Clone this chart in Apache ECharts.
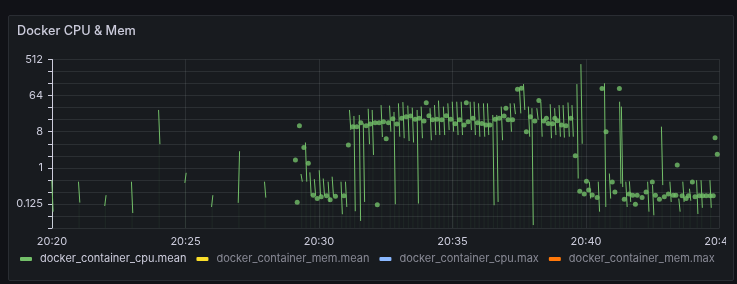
<!DOCTYPE html>
<html>
<head>
<meta charset="utf-8">
<script src="https://cdn.jsdelivr.net/npm/echarts@6/dist/echarts.min.js"></script>
<style>
  html, body { margin: 0; padding: 0; background: #111217; width: 737px; height: 284px; overflow: hidden; }
  #panel { position: absolute; left: 8px; top: 15px; width: 724px; height: 264px; background: #181b1f; border: 1px solid #2a2d33; border-radius: 2px; }
  #chart { position: absolute; left: 0; top: 0; width: 726px; height: 284px; overflow: hidden; }
</style>
</head>
<body>
<div id="panel"></div>
<div id="chart"></div>
<script>
// ---- data (times are seconds after 20:20:00) ----
const xTickLabels = ['20:20', '20:25', '20:30', '20:35', '20:40', '20:45'];
const yTickLabels = ['0.125', '1', '8', '64', '512'];
const seriesNames = ['docker_container_cpu.mean', 'docker_container_mem.mean', 'docker_container_cpu.max', 'docker_container_mem.max'];

// spikes: [time, first value, second value]
const cpuSpikes = [
  [1,0.49,0.08],[61,0.45,0.135],[120,0.111,0.207],[180,0.45,0.074],[241,28,3.9],[300,0.42,0.75],
  [360,0.105,0.207],[420,0.133,2.6],[479,0.45,0.18],
  [561,0.7,0.45],[571,4.3,0.45],[581,0.77,0.2],[591,0.52,0.2],[602,0.87,0.2],[611,0.54,0.2],
  [622,0.45,0.14],[631,0.6,0.2],[651,0.45,0.069],[661,0.45,0.105],
  [670,28,8.8],[680,19.8,0.082],[692,21,0.047],[701,13,0.14],[712,30,3.9],[721,28,2.1],[741,37,5.9],
  [760,36,8],[770,25,0.123],[780,41,6],[790,44,5.5],[801,36,4.7],[811,32,4.3],[822,28,0.128],
  [831,34,5.5],[851,31,4.9],[861,37,6.6],[870,48,6.6],[881,34,6.6],[891,41,8.8],[901,45,8],
  [911,45,6.6],[921,45,6.6],[941,45,8.8],[950,45,6.6],[960,41,6],[971,41,6],[980,41,6.6],
  [992,21,0.116],[1001,21,0.14],[1011,34,4.9],[1031,41,8],[1040,41,22],[1052,98,23],[1061,124,28],
  [1072,34,6],[1080,31,0.037],[1091,31,16],[1100,45,6],[1121,39,5.5],[1131,31,6.6],[1141,37,6],
  [1150,37,5.7],[1161,43,6],[1170,37,6],[1181,124,0.54],[1190,392,4],
  [1209,0.45,0.17],[1229,0.45,0.08],[1243,130,0.105],[1254,0.72,0.17],[1277,45,0.4],[1281,34,0.33],
  [1291,0.45,0.105],[1299,0.46,0.14],[1340,0.45,0.08],[1351,0.37,0.065],[1371,10.7,0.37],
  [1390,0.45,0.14],[1410,0.17,0.08],[1419,0.45,0.14],[1434,0.3,0.15],[1450,0.49,0.07],
  [1460,0.49,0.1],[1480,0.49,0.1]
];

// isolated points: [time, value]
const cpuPoints = [
  [547,1.56],[551,0.138],[556,11.3],[566,3.2],[576,1.31],[587,0.206],[596,0.17],[605,0.19],
  [617,0.2],[625,0.16],[637,0.195],[656,0.2],[666,3.7],
  [676,10.7],[685,10.7],[694,13.5],[706,11.3],[715,12.4],[726,13.5],[731,0.12],[735,13.5],
  [745,14.3],[751,5.3],[756,13.5],
  [766,17],[775,12.5],[786,17.3],[796,19],[806,19.8],[816,16.4],[825,17.3],[836,14.8],[841,42.7],
  [847,20],[855,16],[865,16.4],[876,16],[886,20],[896,16.4],[906,12.7],[916,16],[926,11.8],
  [931,42.7],[935,14.2],[946,17.3],[956,13.5],[966,12.9],[975,11.8],[984,11.8],
  [996,16.4],[1005,17.3],[1016,19.8],[1020,31],[1025,16],[1035,16],[1046,92.6],[1055,98],
  [1066,8],[1075,19],[1085,14.8],[1094,48],[1105,14.8],[1111,17.3],[1115,12.9],[1125,12.7],
  [1130,17.3],[1136,15.1],[1145,11.8],[1155,11.3],[1166,17.3],[1176,2],
  [1186,0.26],[1196,0.22],[1201,0.46],[1206,0.28],[1214,0.21],[1225,0.18],[1236,96],[1245,8],
  [1259,0.44],[1265,0.25],[1275,96],[1286,0.164],[1297,0.22],[1305,0.206],[1311,0.123],
  [1315,0.206],[1326,0.18],[1335,0.25],[1349,0.44],[1356,0.206],[1365,0.164],[1376,0.19],
  [1385,0.22],[1396,0.206],[1402,0.206],[1405,1.17],[1416,0.2],[1425,0.17],[1430,0.2],
  [1439,0.44],[1445,0.19],[1455,0.2],[1462,0.2],[1470,0.2],[1479,0.2],[1486,0.2],
  [1490,5.66],[1495,2.2]
];

const memMean = [];
const cpuMax = [];
const memMax = [];

// ---- build ----
const colors = ['#73bf69', '#fade2a', '#8ab8ff', '#ff780a'];
const lineData = [];
cpuSpikes.forEach(function (s) {
  lineData.push([s[0] - 1.5, s[1]]);
  lineData.push([s[0] + 1.5, s[2]]);
  lineData.push([s[0] + 2, null]);
});

const fontFamily = 'Inter';
const textMain = '#ccccdc';
const textDim = 'rgba(204,204,220,0.62)';
const gridColor = 'rgba(240,250,255,0.09)';

const chart = echarts.init(document.getElementById('chart'), null, { renderer: 'canvas' });
chart.setOption({
  backgroundColor: 'transparent',
  animation: false,
  textStyle: { fontFamily: fontFamily },
  title: {
    text: 'Docker CPU & Mem',
    left: 17, top: 24.3, padding: 0,
    textStyle: { color: textMain, fontSize: 12.7, fontWeight: 500, fontFamily: fontFamily }
  },
  legend: {
    left: 20, top: 253.5, padding: 0, width: 704,
    icon: 'roundRect', itemWidth: 12, itemHeight: 4, itemGap: 10,
    textStyle: { fontSize: 11, fontFamily: fontFamily, color: textMain, padding: [0, 0, 0, 3] },
    data: seriesNames.map(function (n, i) {
      return { name: n, textStyle: { color: i === 0 ? textMain : textDim } };
    }),
    selectedMode: false
  },
  grid: { left: 52, right: 6.5, top: 59.5, bottom: 56, containLabel: false, outerBoundsMode: 'none' },
  xAxis: {
    type: 'value', min: 0, max: 1500, interval: 300,
    axisLine: { show: false }, axisTick: { show: false },
    splitLine: { show: true, lineStyle: { color: gridColor, width: 1 } },
    axisLabel: {
      color: textMain, fontSize: 11, fontFamily: fontFamily, margin: 8,
      formatter: function (v) { return xTickLabels[Math.round(v / 300)] || ''; }
    }
  },
  yAxis: {
    type: 'log', logBase: 2, min: 1 / 32, max: 512, interval: 1,
    axisLine: { show: true, lineStyle: { color: textMain, width: 1 } },
    axisTick: { show: true, length: 4, lineStyle: { color: textMain } },
    splitLine: { show: true, lineStyle: { color: gridColor, width: 1 } },
    axisLabel: {
      color: textMain, fontSize: 11, fontFamily: fontFamily, margin: 9,
      formatter: function (v) {
        const e = Math.round(Math.log2(v));
        if (e % 3 !== 0) return '';
        return yTickLabels[(e + 3) / 3] || '';
      }
    }
  },
  series: [
    {
      name: seriesNames[0], type: 'line', data: lineData, connectNulls: false,
      showSymbol: false, color: colors[0],
      lineStyle: { width: 1, color: colors[0] },
      areaStyle: { origin: 'start', color: 'rgba(115,191,105,0.09)' },
      z: 2
    },
    {
      name: seriesNames[0], type: 'scatter', data: cpuPoints, symbolSize: 5,
      color: colors[0], itemStyle: { color: colors[0] }, z: 3
    },
    { name: seriesNames[1], type: 'line', data: memMean, color: colors[1], showSymbol: false },
    { name: seriesNames[2], type: 'line', data: cpuMax, color: colors[2], showSymbol: false },
    { name: seriesNames[3], type: 'line', data: memMax, color: colors[3], showSymbol: false }
  ]
});
</script>
</body>
</html>
